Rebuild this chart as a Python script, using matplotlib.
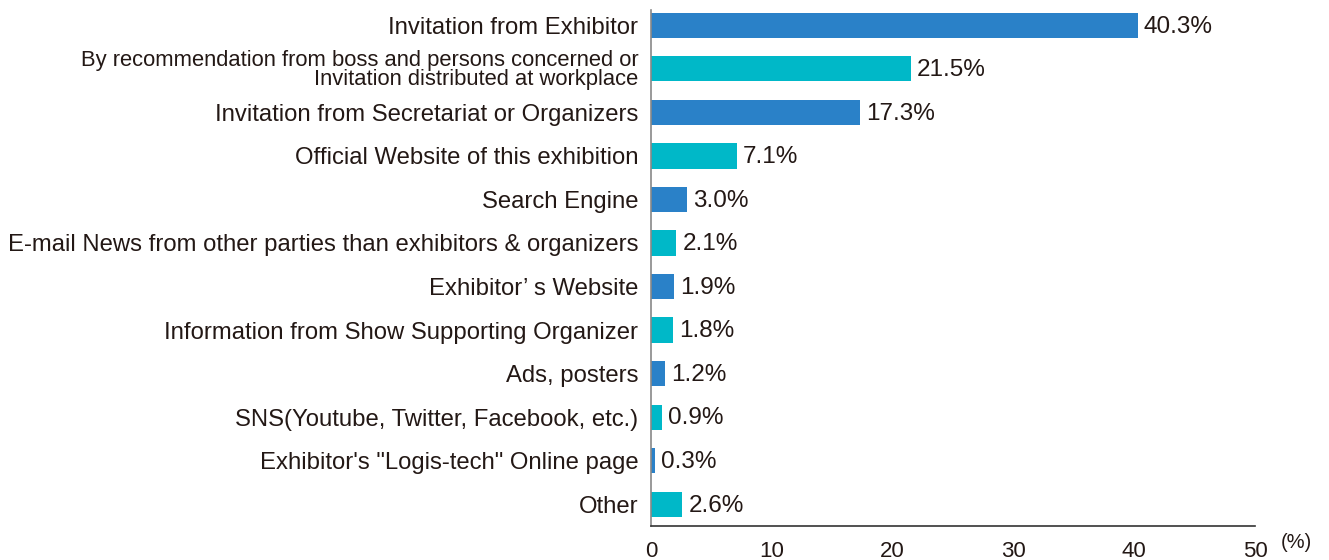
import matplotlib
matplotlib.use("Agg")
import matplotlib.pyplot as plt

categories = [
    "Invitation from Exhibitor",
    "By recommendation from boss and persons concerned or\nInvitation distributed at workplace",
    "Invitation from Secretariat or Organizers",
    "Official Website of this exhibition",
    "Search Engine",
    "E-mail News from other parties than exhibitors & organizers",
    "Exhibitor\u2019 s Website",
    "Information from Show Supporting Organizer",
    "Ads, posters",
    "SNS(Youtube, Twitter, Facebook, etc.)",
    "Exhibitor's \"Logis-tech\" Online page",
    "Other",
]
values = [40.3, 21.5, 17.3, 7.1, 3.0, 2.1, 1.9, 1.8, 1.2, 0.9, 0.3, 2.6]
xticks = [0, 10, 20, 30, 40, 50]

plt.rcParams['font.family'] = ['Liberation Sans', 'DejaVu Sans']

blue = "#2a81c8"
cyan = "#00b8c8"
colors = [blue if i % 2 == 0 else cyan for i in range(len(values))]

fig = plt.figure(figsize=(13.29, 5.6), dpi=100)
ax = fig.add_axes([651/1329, 1-526/560, (1255-651)/1329, (526-10)/560])

n = len(values)
ypos = [n - 1 - i for i in range(n)]
ax.barh(ypos, values, height=0.58, color=colors)

for y, v in zip(ypos, values):
    ax.text(v + 0.5, y - 0.03, f"{v}%", va="center", ha="left", fontsize=17.5, color="#231815")

ax.set_yticks(ypos)
ax.set_yticklabels(categories)
for i, lab in enumerate(ax.get_yticklabels()):
    if "\n" in categories[i]:
        lab.set_fontsize(15.8)
        lab.set_linespacing(0.85)
    else:
        lab.set_fontsize(17.2)
    lab.set_color("#231815")

ax.set_xlim(0, 50)
ax.set_ylim(-0.5, n - 1 + 0.35)
ax.set_xticks(xticks)
ax.set_xticklabels([str(t) for t in xticks], fontsize=16, color="#231815")
ax.tick_params(axis="both", length=0)
ax.tick_params(axis="x", pad=11)
ax.tick_params(axis="y", pad=9)

for s in ["top", "right"]:
    ax.spines[s].set_visible(False)
ax.spines["left"].set_color("#888888")
ax.spines["left"].set_linewidth(1.2)
ax.spines["bottom"].set_color("#333333")
ax.spines["bottom"].set_linewidth(1.2)

fig.text(1296/1329, 1-543/560, "(%)", ha="center", va="center", fontsize=14.5, color="#231815")

fig.savefig("out.png", dpi=100)
